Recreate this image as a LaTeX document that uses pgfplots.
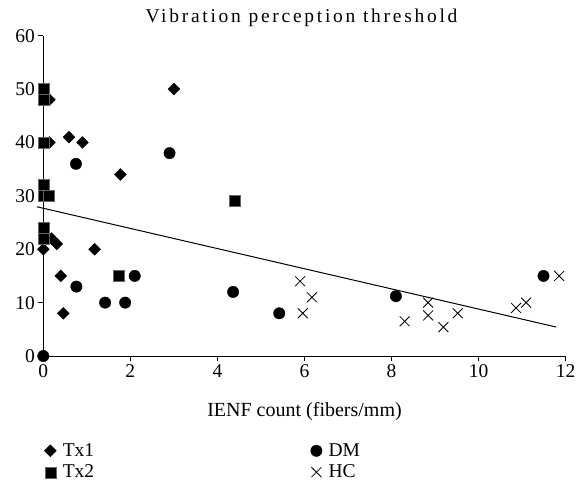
\documentclass[border=0pt]{standalone}
\usepackage{fontspec}
\setmainfont{Liberation Serif}
\newfontfamily\titlefont[LetterSpace=14]{Liberation Serif}
\usepackage{pgfplots}
\pgfplotsset{compat=1.18}
\begin{document}
\begin{tikzpicture}
\path[use as bounding box] (-43.3pt,-127pt) rectangle (533.7pt,356pt);
\begin{axis}[
  scale only axis,
  width=522.4pt, height=320.3pt,
  at={(0pt,0pt)}, anchor=south west,
  xmin=0, xmax=12, ymin=0, ymax=60,
  xtick={0,2,...,12}, ytick={0,10,...,60},
  axis lines*=left,
  axis line style={line width=1pt},
  major tick style={line width=1pt, black},
  tick align=outside,
  major tick length=5pt,
  /pgf/number format/assume math mode=true,
  tick label style={font=\fontsize{19.5}{21}\selectfont},
  xlabel={IENF count (fibers/mm)},
  xlabel style={font=\fontsize{20}{22}\selectfont, at={(axis description cs:0.5,0)}, anchor=base, yshift=-60pt},
  title={\titlefont Vibration perception threshold},
  title style={font=\fontsize{19.5}{22}\selectfont, at={(axis description cs:0.5,1)}, anchor=base, yshift=7.7pt, xshift=-3pt},
  clip=false,
  legend columns=2,
  legend cell align=left,
  legend style={draw=none, fill=none, font=\fontsize{19.5}{22}\selectfont,
    at={(axis description cs:-0.004,-0.262)}, anchor=north west,
    nodes={inner sep=1.5pt},
    row sep=4pt,
    /tikz/every odd column/.append style={column sep=5pt},
    /tikz/every even column/.append style={column sep=215pt}},
]
\addplot[only marks, mark=square*, mark size=4.2pt, mark options={rotate=45, fill=black, draw=black}]
  coordinates {(3.0,50) (0.14,48) (0.14,40) (0.59,41) (0.9,40) (1.77,34) (0.19,22) (0.31,21) (0,20) (1.18,20) (0.4,15) (0.46,8)};
\addlegendentry{Tx1}
\addplot[only marks, mark=*, mark size=5.7pt, mark options={fill=black, draw=black}]
  coordinates {(0.75,36) (2.9,38) (0,0) (0.76,13) (1.42,10) (1.88,10) (2.1,15) (4.36,12) (5.42,8) (8.1,11.2) (11.49,15)};
\addlegendentry{DM}
\addplot[only marks, mark=square*, mark size=5.5pt, mark options={fill=black, draw=black!60}]
  coordinates {(0,50) (0,48) (0,40) (0,32) (0,30) (0.12,30) (0,24) (0,22) (1.74,15) (4.4,29)};
\addlegendentry{Tx2}
\addplot[only marks, mark=x, mark size=7pt, mark options={line width=0.8pt, draw=black}]
  coordinates {(5.9,14) (6.17,11) (5.96,8) (8.3,6.5) (8.84,10) (8.84,7.6) (9.19,5.4) (9.52,8) (10.86,9) (11.09,10) (11.85,15)};
\addlegendentry{HC}
\addplot[black, line width=1pt, forget plot] coordinates {(-0.15,27.96) (11.78,5.43)};
\end{axis}
\end{tikzpicture}
\end{document}
